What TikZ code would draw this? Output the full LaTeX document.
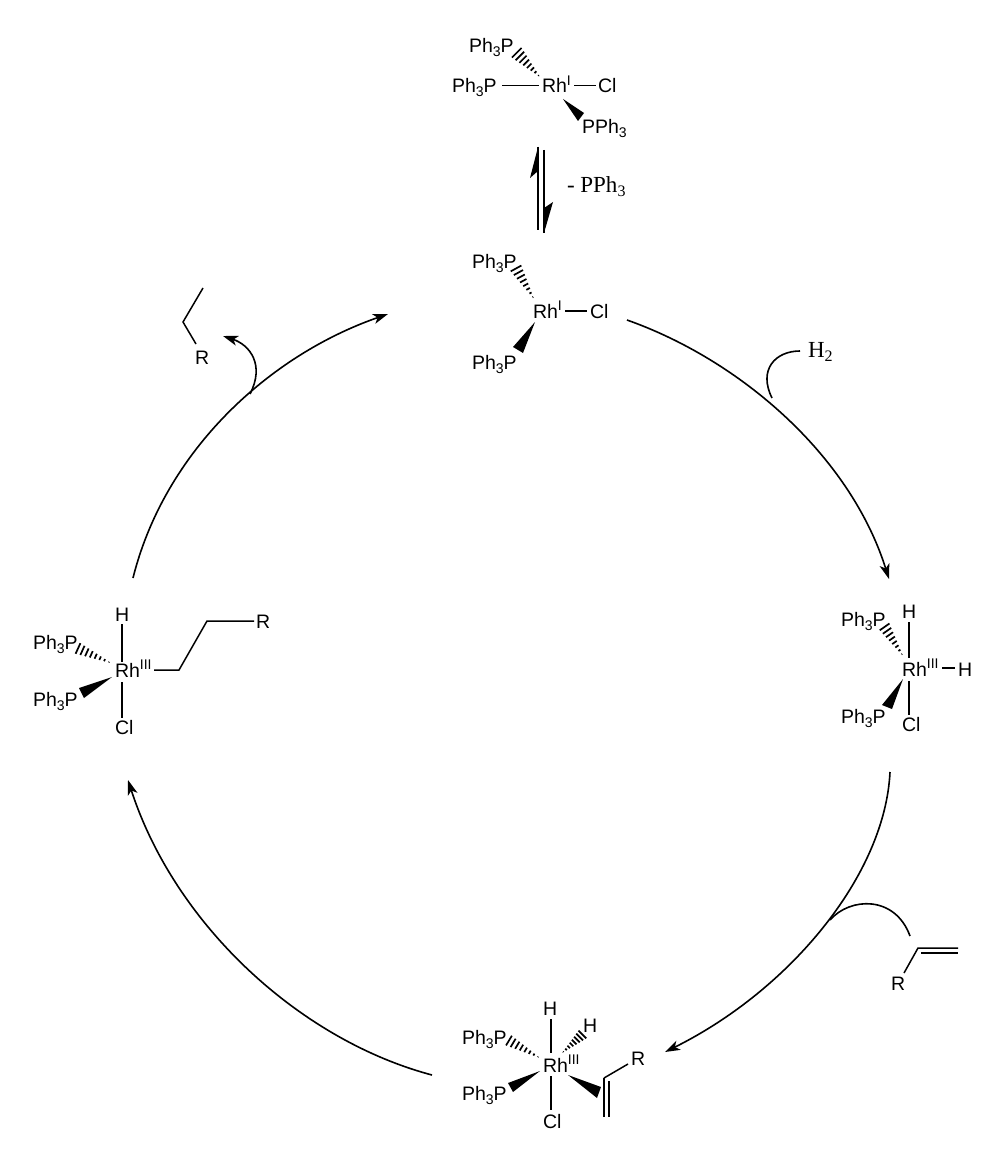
\documentclass[tikz,border=0pt]{standalone}
\usepackage{fontspec}
\setmainfont{Liberation Sans}
\newfontfamily\serifchem{Liberation Serif}
\usetikzlibrary{calc,arrows.meta}
\newcommand\lowsub[1]{\raisebox{-4pt}{\fontsize{14}{14}\selectfont #1}}
\newcommand\highsup[1]{\raisebox{7.5pt}{\fontsize{14}{14}\selectfont #1}}
\newcommand\serlow[1]{\raisebox{-4pt}{\fontsize{16}{16}\selectfont #1}}
\newcommand\PhP{Ph\lowsub{3}P}
\newcommand\PPh{PPh\lowsub{3}}
\newcommand\wedgebond[3]{\fill (#1) -- (#2) -- (#3) -- cycle;}
\newcommand\hashbond[3]{\foreach \t in {0.06,0.19,...,1.0}{\draw[hashline] ($(#1)!\t!(#2)$) -- ($(#1)!\t!(#3)$);}}
\tikzset{
  lab/.style={anchor=base west,inner sep=0pt,outer sep=0pt,yshift=-1pt,font=\fontsize{19.5}{22}\selectfont},
  serlab/.style={anchor=base west,inner sep=0pt,outer sep=0pt,font=\fontsize{23}{26}\selectfont\serifchem},
  bondline/.style={line width=1.5pt},
  hashline/.style={line width=1.7pt},
  cycarrow/.style={line width=1.6pt},
  cyctip/.style={-{Stealth[length=15pt,width=10pt,inset=4pt]}},
}
\begin{document}
\begin{tikzpicture}[x=1pt,y=-1pt]
\useasboundingbox (0,0) rectangle (1006,1166);
\fill[white] (0,0) rectangle (1006,1166);
% --- top complex
\node[lab] (a1) at (469,52) {\PhP};
\node[lab] (a2) at (452,92) {\PhP};
\node[lab] (arh) at (542,92) {Rh\highsup{I}};
\node[lab] (acl) at (598,92) {Cl};
\node[lab] (a3) at (582,133) {\PPh};
\coordinate (a1n) at (540,77); \coordinate (a1p) at (521,47); \coordinate (a1q) at (511,57);
\hashbond{a1n}{a1p}{a1q}
\coordinate (a2s) at (502,85.5); \coordinate (a2e) at (539,85.5);
\draw[bondline] (a2s) -- (a2e);
\coordinate (acs) at (574,85.5); \coordinate (ace) at (596,85.5);
\draw[bondline] (acs) -- (ace);
\coordinate (a3n) at (563,99); \coordinate (a3p) at (578,121); \coordinate (a3q) at (584,113);
\wedgebond{a3n}{a3p}{a3q}
% --- equilibrium
\coordinate (e1a) at (538,147); \coordinate (e1b) at (538,230);
\coordinate (e1c) at (530,178); \coordinate (e1d) at (538,171);
\draw[bondline] (e1a) -- (e1b);
\fill (e1a) -- (e1c) -- (e1d) -- cycle;
\coordinate (e2a) at (544,150); \coordinate (e2b) at (544,233);
\coordinate (e2c) at (553,202); \coordinate (e2d) at (544,208);
\draw[bondline] (e2a) -- (e2b);
\fill (e2b) -- (e2c) -- (e2d) -- cycle;
\node[serlab] (loss) at (567,193) {- PPh\serlow{3}};
% --- second complex
\node[lab] (b1) at (472,267) {\PhP};
\node[lab] (brh) at (533,317) {Rh\highsup{I}};
\node[lab] (bcl) at (590,317) {Cl};
\node[lab] (b2) at (472,368) {\PhP};
\coordinate (b1n) at (534,299); \coordinate (b1p) at (521,264.5); \coordinate (b1q) at (510,270.5);
\hashbond{b1n}{b1p}{b1q}
\coordinate (bcs) at (565,311); \coordinate (bce) at (587,311);
\draw[bondline] (bcs) -- (bce);
\coordinate (b2n) at (535,322); \coordinate (b2p) at (513,347); \coordinate (b2q) at (523,353);
\wedgebond{b2n}{b2p}{b2q}
% --- right complex
\node[lab] (c1) at (841,625) {\PhP};
\node[lab] (ch1) at (902,617) {H};
\node[lab] (crh) at (902,675) {Rh\highsup{III}};
\node[lab] (ch2) at (958,675) {H};
\node[lab] (c2) at (841,722) {\PhP};
\node[lab] (ccl) at (902,730) {Cl};
\coordinate (c1n) at (903,656); \coordinate (c1p) at (889,622.5); \coordinate (c1q) at (879,629.5);
\hashbond{c1n}{c1p}{c1q}
\coordinate (cha) at (909,622); \coordinate (chb) at (909,658);
\draw[bondline] (cha) -- (chb);
\coordinate (chc) at (942,668); \coordinate (chd) at (955,668);
\draw[bondline] (chc) -- (chd);
\coordinate (c2n) at (903,679); \coordinate (c2p) at (882,705); \coordinate (c2q) at (892,709);
\wedgebond{c2n}{c2p}{c2q}
\coordinate (cca) at (909,681); \coordinate (ccb) at (909,715);
\draw[bondline] (cca) -- (ccb);
% --- bottom complex
\node[lab] (d1) at (462,1043) {\PhP};
\node[lab] (d2) at (462,1099) {\PhP};
\node[lab] (dh1) at (543,1014) {H};
\node[lab] (dh2) at (583,1031) {H};
\node[lab] (drh) at (543,1071) {Rh\highsup{III}};
\node[lab] (dcl) at (543,1127) {Cl};
\node[lab] (dr) at (631,1064) {R};
\coordinate (d1n) at (540,1058); \coordinate (d1p) at (511,1035); \coordinate (d1q) at (505,1045);
\hashbond{d1n}{d1p}{d1q}
\coordinate (d3n) at (562,1053); \coordinate (d3p) at (587,1038); \coordinate (d3q) at (579,1030);
\hashbond{d3n}{d3p}{d3q}
\coordinate (dha) at (551,1019); \coordinate (dhb) at (551,1053);
\draw[bondline] (dha) -- (dhb);
\coordinate (dca) at (551,1076); \coordinate (dcb) at (551,1110);
\draw[bondline] (dca) -- (dcb);
\coordinate (d2n) at (540,1071); \coordinate (d2p) at (508,1083); \coordinate (d2q) at (513,1092);
\wedgebond{d2n}{d2p}{d2q}
\coordinate (d4n) at (568,1075); \coordinate (d4p) at (597,1098); \coordinate (d4q) at (601,1087);
\wedgebond{d4n}{d4p}{d4q}
\coordinate (dv) at (604,1078); \coordinate (dr1) at (628,1064);
\draw[bondline] (dv) -- (dr1);
\coordinate (dv1) at (604,1117); \coordinate (dv2) at (609,1081); \coordinate (dv3) at (609,1117);
\draw[bondline] (dv) -- (dv1);
\draw[bondline] (dv2) -- (dv3);
% --- left complex
\node[lab] (f1) at (33,648) {\PhP};
\node[lab] (f2) at (33,705) {\PhP};
\node[lab] (fh) at (115,620) {H};
\node[lab] (frh) at (115,676) {Rh\highsup{III}};
\node[lab] (fcl) at (115,733) {Cl};
\node[lab] (fr) at (256,627) {R};
\coordinate (f1n) at (111,663); \coordinate (f1p) at (79.5,642.5); \coordinate (f1q) at (74.5,653.5);
\hashbond{f1n}{f1p}{f1q}
\coordinate (fha) at (122,624); \coordinate (fhb) at (122,662);
\draw[bondline] (fha) -- (fhb);
\coordinate (fca) at (122,682); \coordinate (fcb) at (122,718);
\draw[bondline] (fca) -- (fcb);
\coordinate (f2n) at (112,677); \coordinate (f2p) at (79,688); \coordinate (f2q) at (84,698);
\wedgebond{f2n}{f2p}{f2q}
\coordinate (fc1) at (154,670); \coordinate (fc2) at (179,670); \coordinate (fc3) at (207,621); \coordinate (fc4) at (254,621);
\draw[bondline,line join=miter] (fc1) -- (fc2) -- (fc3) -- (fc4);
% --- product
\node[lab] (pr) at (195,363) {R};
\coordinate (p1) at (203,288); \coordinate (p2) at (183,322); \coordinate (p3) at (196,344);
\draw[bondline] (p1) -- (p2) -- (p3);
% --- alkene
\node[lab] (gr) at (891,989) {R};
\coordinate (g1) at (904,973); \coordinate (g2) at (918,948); \coordinate (g3) at (958,948);
\coordinate (g4) at (921,953); \coordinate (g5) at (958,953);
\draw[bondline] (g1) -- (g2) -- (g3);
\draw[bondline] (g4) -- (g5);
% --- hydrogen
\node[serlab] (h2) at (808,357) {H\serlow{2}};
% --- catalytic cycle
\coordinate (t1s) at (627,320); \coordinate (t1e) at (889,579);
\draw[cycarrow,cyctip] (t1s) .. controls (740,360) and (850,455) .. (t1e);
\coordinate (t2s) at (890,772); \coordinate (t2e) at (665,1052);
\draw[cycarrow,cyctip] (t2s) .. controls (885,875) and (790,990) .. (t2e);
\coordinate (t3s) at (432,1075); \coordinate (t3e) at (128,780);
\draw[cycarrow,cyctip] (t3s) .. controls (300,1040) and (175,925) .. (t3e);
\coordinate (t4s) at (133,578); \coordinate (t4e) at (388,314);
\draw[cycarrow,cyctip] (t4s) .. controls (165,450) and (270,355) .. (t4e);
% --- curls
\coordinate (k1s) at (772,398); \coordinate (k1e) at (800,351);
\draw[cycarrow] (k1s) .. controls (758,370) and (775,351) .. (k1e);
\coordinate (k2s) at (830,920); \coordinate (k2e) at (910,936);
\draw[cycarrow] (k2s) .. controls (850,897) and (895,895) .. (k2e);
\coordinate (k3s) at (250,394); \coordinate (k3e) at (223,336);
\draw[cycarrow,cyctip] (k3s) .. controls (265,365) and (250,345) .. (k3e);
\end{tikzpicture}
\end{document}
